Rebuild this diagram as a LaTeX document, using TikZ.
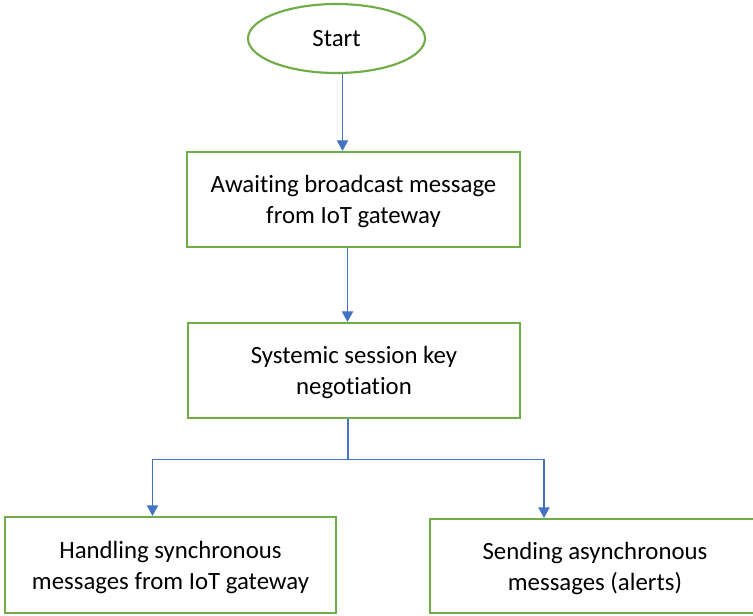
\documentclass[tikz,border=0pt]{standalone}
\usepackage{fontspec}
\setmainfont{Carlito}[Ligatures={NoCommon}]
\usetikzlibrary{arrows.meta,shapes.geometric,calc}
\definecolor{boxgreen}{HTML}{70AD47}
\definecolor{linkblue}{HTML}{4472C4}
\tikzset{
  textfont/.style={font=\fontsize{18.6}{23.3}\selectfont},
  stepbox/.style={draw=boxgreen, line width=1.6pt, rectangle, align=center,
    textfont, inner sep=0pt, text depth=0pt},
  startnode/.style={draw=boxgreen, line width=1.6pt, ellipse, inner sep=0pt,
    minimum width=177*0.75pt, minimum height=69*0.75pt, textfont},
  link/.style={draw=linkblue, line width=0.8pt},
  arr/.style={link, -{Triangle[width=8.5pt, length=8pt]}}
}
\begin{document}
\begin{tikzpicture}[x=0.75pt, y=-0.75pt]
  \useasboundingbox (0,0) rectangle (753,615);
  \clip (0,0) rectangle (753,615);

  \node[startnode] (start) at (336.5,38.5) {\raisebox{-3.5pt}{Start}};
  \node[stepbox, minimum width=333*0.75pt, minimum height=95*0.75pt] (wait) at (353.5,199.5)
    {Awaiting broadcast message\\from IoT gateway};
  \node[stepbox, minimum width=332*0.75pt, minimum height=95*0.75pt] (nego) at (354,370.5)
    {Systemic session key\\negotiation};
  \node[stepbox, minimum width=331*0.75pt, minimum height=96*0.75pt] (sync) at (170.5,565)
    {Handling synchronous\\messages from IoT gateway};
  \node[stepbox, minimum width=330*0.75pt, minimum height=94*0.75pt] (async) at (595,566)
    {Sending asynchronous\\messages (alerts)};

  % main flow
  \draw[arr] ([xshift=4.5pt]start.south) -- ([xshift=4.5pt]start.south |- wait.north);
  \draw[arr] ([xshift=-4.5pt]wait.south) -- ([xshift=-4.5pt]wait.south |- nego.north);

  % split into the two message handlers
  \coordinate (split) at ($([xshift=-4.5pt]nego.south)+(0,40)$);
  \draw[link] ([xshift=-4.5pt]nego.south) -- (split);
  \draw[arr] (split) -| ([xshift=-13.5pt]sync.north);
  \draw[arr] (split) -| ([xshift=-38.25pt]async.north);
\end{tikzpicture}
\end{document}
